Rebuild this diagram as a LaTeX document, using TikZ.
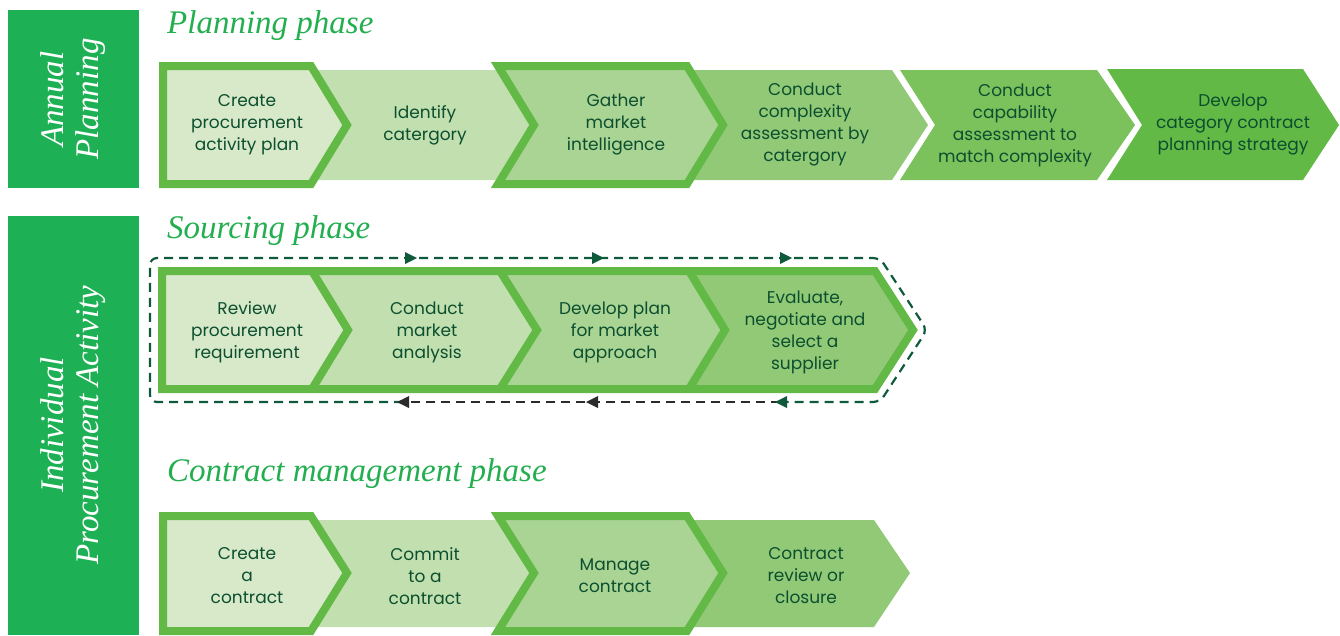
\documentclass[tikz,border=0pt]{standalone}
\usepackage{fontspec}
\setmainfont{Poppins}
\newfontfamily\titlefont{Liberation Serif}
\definecolor{fa}{HTML}{D7E9C9}
\definecolor{fb}{HTML}{C1DFAF}
\definecolor{fc}{HTML}{AAD494}
\definecolor{fd}{HTML}{91C977}
\definecolor{fe}{HTML}{7BC15C}
\definecolor{ff}{HTML}{62B946}
\definecolor{bord}{HTML}{62B946}
\definecolor{sidec}{HTML}{1EB054}
\definecolor{ttlc}{HTML}{23AE4F}
\definecolor{txtc}{HTML}{0C4F2F}
\definecolor{dashg}{HTML}{0E5A3B}
\definecolor{dashk}{HTML}{2B2B2B}
\tikzset{
  txt/.style={font=\fontsize{17}{22}\selectfont, text=txtc, align=center, inner sep=0pt},
  bordr/.style={draw=bord, line width=8pt, line join=miter},
  ttl/.style={font=\titlefont\itshape\fontsize{33}{36}\selectfont, text=ttlc, anchor=base west, inner sep=0pt},
  sidelbl/.style={font=\titlefont\itshape\fontsize{33}{35}\selectfont, text=white, align=center, rotate=90, inner sep=0pt},
  dashline/.style={line width=2.2pt, dash pattern=on 9pt off 6pt, rounded corners=7pt},
}
\begin{document}
\begin{tikzpicture}[x=1pt,y=-1pt]
\useasboundingbox (0,0) rectangle (1340,635);
% side boxes
\fill[sidec] (8,10) rectangle (139,188);
\fill[sidec] (8,216) rectangle (139,635);
\node[sidelbl] (lblA) at (73.5,99) {Annual\\Planning};
\node[sidelbl] (lblB) at (73.5,425) {Individual\\Procurement Activity};
% titles
\node[ttl] (t1) at (167,33) {Planning phase};
\node[ttl] (t2) at (167,238) {Sourcing phase};
\node[ttl] (t3) at (167,481) {Contract management phase};

% ---------- Row 1 ----------
\fill[fb] (300,70) -- (500,70) -- (536,125) -- (500,180) -- (300,180) -- cycle;
\fill[fd] (680,70) -- (892,70) -- (928,125) -- (892,180) -- (680,180) -- cycle;
\filldraw[fill=fa, bordr] (163,66) -- (311,66) -- (347,125) -- (311,184) -- (163,184) -- cycle;
\filldraw[fill=fc, bordr] (498,66) -- (687,66) -- (723,125) -- (687,184) -- (498,184) -- (534,125) -- cycle;
\fill[fe] (900,70) -- (1097,70) -- (1135,125) -- (1097,180) -- (900,180) -- (935,125) -- cycle;
\fill[ff] (1107,69) -- (1303,69) -- (1339,125) -- (1303,180) -- (1107,180) -- (1142,125) -- cycle;
\node[txt] (a1) at (247,125) {Create\\procurement\\activity plan};
\node[txt] (a2) at (425,125) {Identify\\catergory};
\node[txt] (a3) at (616,125) {Gather\\market\\intelligence};
\node[txt] (a4) at (805,125) {Conduct\\complexity\\assessment by\\catergory};
\node[txt] (a5) at (1015,125) {Conduct\\capability\\assessment to\\match complexity};
\node[txt] (a6) at (1233,125) {Develop\\category contract\\planning strategy};

% ---------- Row 2 ----------
\fill[fa] (162,271) -- (312,271) -- (348,330) -- (312,389) -- (162,389) -- cycle;
\fill[fb] (312,271) -- (500,271) -- (537,330) -- (500,389) -- (312,389) -- (348,330) -- cycle;
\fill[fc] (500,271) -- (689,271) -- (725,330) -- (689,389) -- (500,389) -- (537,330) -- cycle;
\fill[fd] (689,271) -- (875,271) -- (913,330) -- (875,389) -- (689,389) -- (725,330) -- cycle;
\draw[bordr] (312,271) -- (348,330) -- (312,389);
\draw[bordr] (500,271) -- (537,330) -- (500,389);
\draw[bordr] (689,271) -- (725,330) -- (689,389);
\draw[bordr] (162,271) -- (875,271) -- (913,330) -- (875,389) -- (162,389) -- cycle;
\node[txt] (b1) at (247,332) {Review\\procurement\\requirement};
\node[txt] (b2) at (427,332) {Conduct\\market\\analysis};
\node[txt] (b3) at (615,332) {Develop plan\\for market\\approach};
\node[txt] (b4) at (805,332) {Evaluate,\\negotiate and\\select a\\supplier};
% dashed loop
\draw[dashline, dashg] (403,402) -- (150,402) -- (150,258) -- (880,258) -- (927,330) -- (880,402) -- (780,402);
\draw[line width=2.2pt, dash pattern=on 9pt off 6pt, dashk] (780,402) -- (403,402);
\fill[dashg] (417,258) -- (405,252) -- (405,264) -- cycle;
\fill[dashg] (604,258) -- (592,252) -- (592,264) -- cycle;
\fill[dashg] (792,258) -- (780,252) -- (780,264) -- cycle;
\fill[dashk] (397,402) -- (409,396) -- (409,408) -- cycle;
\fill[dashk] (586,402) -- (598,396) -- (598,408) -- cycle;
\fill[dashg] (775,402) -- (787,396) -- (787,408) -- cycle;

% ---------- Row 3 ----------
\fill[fb] (300,520) -- (500,520) -- (536,573) -- (500,627) -- (300,627) -- cycle;
\fill[fd] (680,520) -- (874,520) -- (910,573) -- (874,627) -- (680,627) -- cycle;
\filldraw[fill=fa, bordr] (163,516) -- (311,516) -- (347,573) -- (311,631) -- (163,631) -- cycle;
\filldraw[fill=fc, bordr] (498,516) -- (687,516) -- (723,573) -- (687,631) -- (498,631) -- (534,573) -- cycle;
\node[txt] (c1) at (247,576) {Create\\a\\contract};
\node[txt] (c2) at (425,576) {Commit\\to a\\contract};
\node[txt] (c3) at (615,576) {Manage\\contract};
\node[txt] (c4) at (806,576) {Contract\\review or\\closure};
\end{tikzpicture}
\end{document}
